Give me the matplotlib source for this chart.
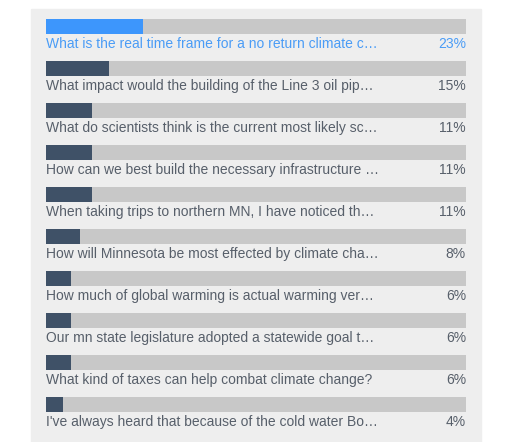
import matplotlib.pyplot as plt
from matplotlib.patches import Rectangle

# poll answers and vote shares (%)
questions = [
    "What is the real time frame for a no return climate c\u2026",
    "What impact would the building of the Line 3 oil pip\u2026",
    "What do scientists think is the current most likely sc\u2026",
    "How can we best build the necessary infrastructure \u2026",
    "When taking trips to northern MN, I have noticed th\u2026",
    "How will Minnesota be most effected by climate cha\u2026",
    "How much of global warming is actual warming ver\u2026",
    "Our mn state legislature adopted a statewide goal t\u2026",
    "What kind of taxes can help combat climate change?",
    "I've always heard that because of the cold water Bo\u2026",
]
shares = [23, 15, 11, 11, 11, 8, 6, 6, 6, 4]

# colours
panel_col = "#eeeeee"
track_col = "#c8c8c8"
top_col = "#3d96fc"
top_text = "#4a9cf6"
bar_col = "#3f5167"
text_col = "#575f6a"

W, H = 529, 442
fig = plt.figure(figsize=(W / 100, H / 100), dpi=100)
fig.patch.set_facecolor("white")

# grey panel behind everything
fig.add_artist(Rectangle((31 / W, 0), 450 / W, (H - 9) / H,
                         transform=fig.transFigure, color=panel_col, zorder=0))

ax = fig.add_axes([46 / W, 0, 420 / W, 1])
ax.set_facecolor("none")
ax.set_xlim(0, 100)
# row pitch is 42px, first bar centre at 26.5px from top
pitch = 42
ax.set_ylim((H - 26.5) / pitch, -26.5 / pitch)
ax.axis("off")

rows = range(len(shares))
bar_h = 15 / pitch
ax.barh(rows, [100] * len(shares), height=bar_h, color=track_col, zorder=1)
colors = [top_col] + [bar_col] * (len(shares) - 1)
ax.barh(rows, shares, height=bar_h, color=colors, zorder=2)

font = ["Liberation Sans", "DejaVu Sans"]
for i, (q, s) in enumerate(zip(questions, shares)):
    c = top_text if i == 0 else text_col
    y = i + 21.5 / pitch
    ax.text(0, y, q, ha="left", va="baseline", fontsize=10.0,
            family=font, color=c)
    ax.text(100, y, f"{s}%", ha="right", va="baseline", fontsize=10.0,
            family=font, color=c)

fig.savefig("out.png", dpi=100)
